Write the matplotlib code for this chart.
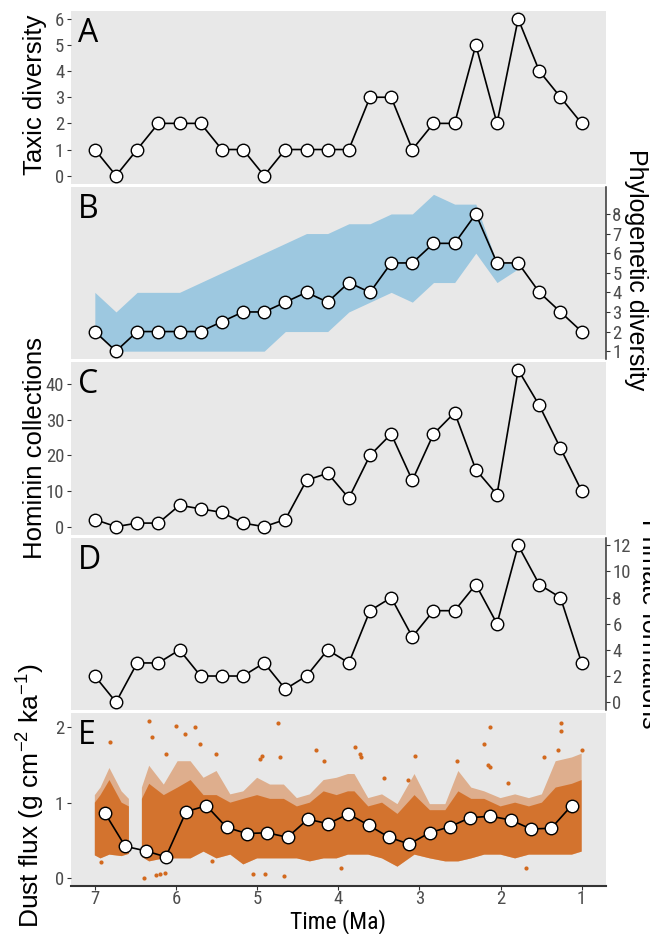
import matplotlib
matplotlib.use("Agg")
import matplotlib.pyplot as plt
import numpy as np

plt.rcParams['font.family'] = ['Liberation Sans', 'DejaVu Sans']
NARROW = ['Liberation Sans Narrow', 'Roboto Condensed', 'Liberation Sans', 'DejaVu Sans']

# bin times (Ma), 24 bins from 7 to 1
time_bins = np.linspace(7, 1, 24)

taxic = [1, 0, 1, 2, 2, 2, 1, 1, 0, 1, 1, 1, 1, 3, 3, 1, 2, 2, 5, 2, 6, 4, 3, 2]

phylo = [2, 1, 2, 2, 2, 2, 2.5, 3, 3, 3.5, 4, 3.5, 4.5, 4, 5.5, 5.5, 6.5, 6.5, 8,
         5.5, 5.5, 4, 3, 2]
phylo_hi = [4, 3, 4, 4, 4, 4.5, 5, 5.5, 6, 6.5, 7, 7, 7.5, 7.5, 8, 8, 9, 8.5, 8.5,
            5.5, 5.5, np.nan, np.nan, np.nan]
phylo_lo = [2, 1, 1, 1, 1, 1, 1, 1, 1, 2, 2, 2, 3, 3.5, 4, 3.5, 4.5, 4.5, 6,
            4.5, 5.2, np.nan, np.nan, np.nan]

collections = [2, 0, 1, 1, 6, 5, 4, 1, 0, 2, 13, 15, 8, 20, 26, 13, 26, 32, 16, 9,
               44, 34, 22, 10]

formations = [2, 0, 3, 3, 4, 2, 2, 2, 3, 1, 2, 4, 3, 7, 8, 5, 7, 7, 9, 6, 12, 9, 8, 3]

# dust flux bin means (0.25 Ma bins)
dust_bin_t = np.arange(6.875, 1.0, -0.25)
dust_mean = [0.86, 0.42, 0.36, 0.28, 0.88, 0.96, 0.67, 0.59, 0.60, 0.54, 0.78, 0.72,
             0.85, 0.70, 0.54, 0.45, 0.60, 0.68, 0.80, 0.82, 0.77, 0.65, 0.66, 0.96]

# dust record envelope (low edge, dense upper edge, sparse top)
dust_t = [7.00, 6.93, 6.82, 6.67, 6.58, 6.50, 6.42, 6.33, 6.15, 5.98, 5.82, 5.66,
          5.50, 5.33, 5.17, 5.00, 4.84, 4.67, 4.51, 4.35, 4.18, 4.02, 3.88, 3.80,
          3.63, 3.46, 3.27, 3.06, 2.87, 2.68, 2.52, 2.36, 2.20, 2.00, 1.82, 1.65,
          1.49, 1.32, 1.12, 1.00]
dust_lo = [0.30, 0.26, 0.31, 0.29, 0.32, np.nan, 0.28, 0.22, 0.26, 0.26, 0.26, 0.35,
           0.26, 0.31, 0.18, 0.26, 0.26, 0.26, 0.26, 0.22, 0.26, 0.26, 0.31, 0.31,
           0.31, 0.26, 0.15, 0.31, 0.26, 0.22, 0.22, 0.26, 0.31, 0.31, 0.26, 0.31,
           0.31, 0.31, 0.31, 0.35]
dust_dense = [1.00, 1.10, 1.30, 1.00, 0.95, np.nan, 1.05, 1.25, 1.10, 1.20, 1.30, 1.10,
              1.10, 1.00, 1.05, 1.10, 1.05, 1.05, 0.95, 1.00, 1.15, 1.10, 1.15, 1.15,
              0.95, 1.00, 0.85, 1.10, 0.90, 0.90, 1.15, 1.05, 1.05, 0.95, 1.00, 0.95,
              1.00, 1.20, 1.25, 1.30]
dust_top = [1.10, 1.20, 1.46, 1.15, 1.05, np.nan, 1.20, 1.49, 1.24, 1.55, 1.55, 1.33,
            1.42, 1.11, 1.15, 1.33, 1.24, 1.24, 1.06, 1.11, 1.30, 1.33, 1.38, 1.38,
            1.06, 1.11, 0.98, 1.38, 0.98, 0.98, 1.42, 1.20, 1.15, 1.06, 1.11, 1.06,
            1.11, 1.55, 1.60, 1.65]
outlier_t = [6.81, 6.92, 6.33, 6.30, 6.40, 6.25, 6.20, 6.14, 6.12, 6.00, 5.89, 5.77,
             5.70, 5.51, 5.56, 4.94, 4.96, 5.05, 4.90, 4.74, 4.72, 4.67, 4.28, 4.18,
             3.97, 3.79, 3.73, 3.72, 3.43, 3.05, 3.14, 2.54, 2.20, 2.13, 2.15, 2.13,
             1.91, 1.69, 1.46, 1.25, 1.25, 1.29, 1.00]
outlier_v = [1.80, 0.21, 2.09, 1.87, 0.00, 0.04, 0.05, 0.06, 1.65, 2.02, 1.91, 2.00,
             1.78, 1.64, 0.22, 1.62, 1.58, 0.05, 0.05, 2.06, 1.60, 0.02, 1.70, 1.55,
             0.13, 1.74, 1.65, 1.60, 1.33, 1.62, 1.30, 1.55, 1.78, 2.00, 1.50, 1.47,
             1.26, 0.13, 1.60, 2.06, 1.95, 1.70, 1.70]

BG = '#E8E8E8'
TICKC = '#4D4D4D'
ORANGE = '#D2691E'
BLUE = '#9DC8E0'

W, H = 650, 934
fig = plt.figure(figsize=(6.5, 9.34), dpi=100)

left, right = 70.5, 606
tops = [11, 186.5, 362, 537.5, 713]
ph = 172.5


def make_ax(top):
    ax = fig.add_axes([left / W, 1 - (top + ph) / H, (right - left) / W, ph / H])
    ax.set_facecolor(BG)
    for s in ax.spines.values():
        s.set_visible(False)
    ax.set_xlim(7.3, 0.7)
    ax.tick_params(axis='both', colors='#333333', labelcolor=TICKC, length=3,
                   width=0.8, labelsize=13.5)
    ax.tick_params(axis='y', pad=1.5)
    ax.set_xticks([])
    return ax


def points(ax, y):
    ax.plot(time_bins, y, color='black', lw=1.2, zorder=3)
    ax.plot(time_bins, y, 'o', ms=9, mfc='white', mec='black', mew=1.0, zorder=4)


def letter(ax, s):
    ax.text(0.014, 0.965, s, transform=ax.transAxes, ha='left', va='top',
            fontsize=23, family=['Open Sans', 'DejaVu Sans'], color='black')


def right_axis(ax):
    ax.yaxis.tick_right()
    ax.spines['right'].set_visible(True)
    ax.spines['right'].set_color('#333333')
    ax.spines['right'].set_linewidth(1.1)


def narrow_ticks(ax):
    for lab in ax.get_yticklabels() + ax.get_xticklabels():
        lab.set_family(NARROW)


# A
axA = make_ax(tops[0])
points(axA, taxic)
axA.set_ylim(-0.3, 6.3)
axA.set_yticks(range(0, 7))
letter(axA, 'A')
narrow_ticks(axA)

# B
axB = make_ax(tops[1])
axB.fill_between(time_bins, phylo_lo, phylo_hi, color=BLUE, lw=0, zorder=2)
points(axB, phylo)
axB.set_ylim(0.6, 9.4)
axB.set_yticks(range(1, 9))
right_axis(axB)
letter(axB, 'B')
narrow_ticks(axB)

# C
axC = make_ax(tops[2])
points(axC, collections)
axC.set_ylim(-2.2, 46.2)
axC.set_yticks([0, 10, 20, 30, 40])
letter(axC, 'C')
narrow_ticks(axC)

# D
axD = make_ax(tops[3])
points(axD, formations)
axD.set_ylim(-0.6, 12.6)
axD.set_yticks(range(0, 13, 2))
right_axis(axD)
letter(axD, 'D')
narrow_ticks(axD)

# E
axE = make_ax(tops[4])
axE.fill_between(dust_t, dust_lo, dust_top, color=ORANGE, alpha=0.45, lw=0, zorder=2)
axE.fill_between(dust_t, dust_lo, dust_dense, color=ORANGE, alpha=0.85, lw=0, zorder=2)
axE.scatter(outlier_t, outlier_v, s=9, color=ORANGE, lw=0, zorder=2)
axE.plot(dust_bin_t, dust_mean, color='black', lw=1.2, zorder=3)
axE.plot(dust_bin_t, dust_mean, 'o', ms=9, mfc='white', mec='black', mew=1.0, zorder=4)
axE.set_ylim(-0.1, 2.19)
axE.set_yticks([0, 1, 2])
axE.set_xticks(range(7, 0, -1))
axE.spines['bottom'].set_visible(True)
axE.spines['bottom'].set_color('#333333')
axE.spines['bottom'].set_linewidth(1.5)
axE.tick_params(axis='x', labelsize=13.5, pad=0.5, length=3)
letter(axE, 'E')
narrow_ticks(axE)

# axis titles
fig.text(35 / W, 1 - 95 / H, 'Taxic diversity', rotation=90, ha='center', va='center',
         fontsize=18.5)
fig.text(35 / W, 1 - 448 / H, 'Hominin collections', rotation=90, ha='center',
         va='center', fontsize=18.5)
fig.text(30 / W, 1 - 796 / H,
         'Dust flux (g cm$^{\\mathregular{\u22122}}$ ka$^{\\mathregular{\u22121}}$)',
         rotation=90, ha='center', va='center', fontsize=19)
fig.text(624 / W, 1 - 270 / H, 'Phylogenetic diversity', rotation=270, ha='left',
         va='center', fontsize=18)
fig.text(637 / W, 1 - 624 / H, 'Primate formations', rotation=270, ha='left',
         va='center', fontsize=18)
fig.text(338 / W, 1 - 933.5 / H, 'Time (Ma)', ha='center', va='bottom', fontsize=17,
         family=NARROW)

fig.savefig('out.png', dpi=100)
